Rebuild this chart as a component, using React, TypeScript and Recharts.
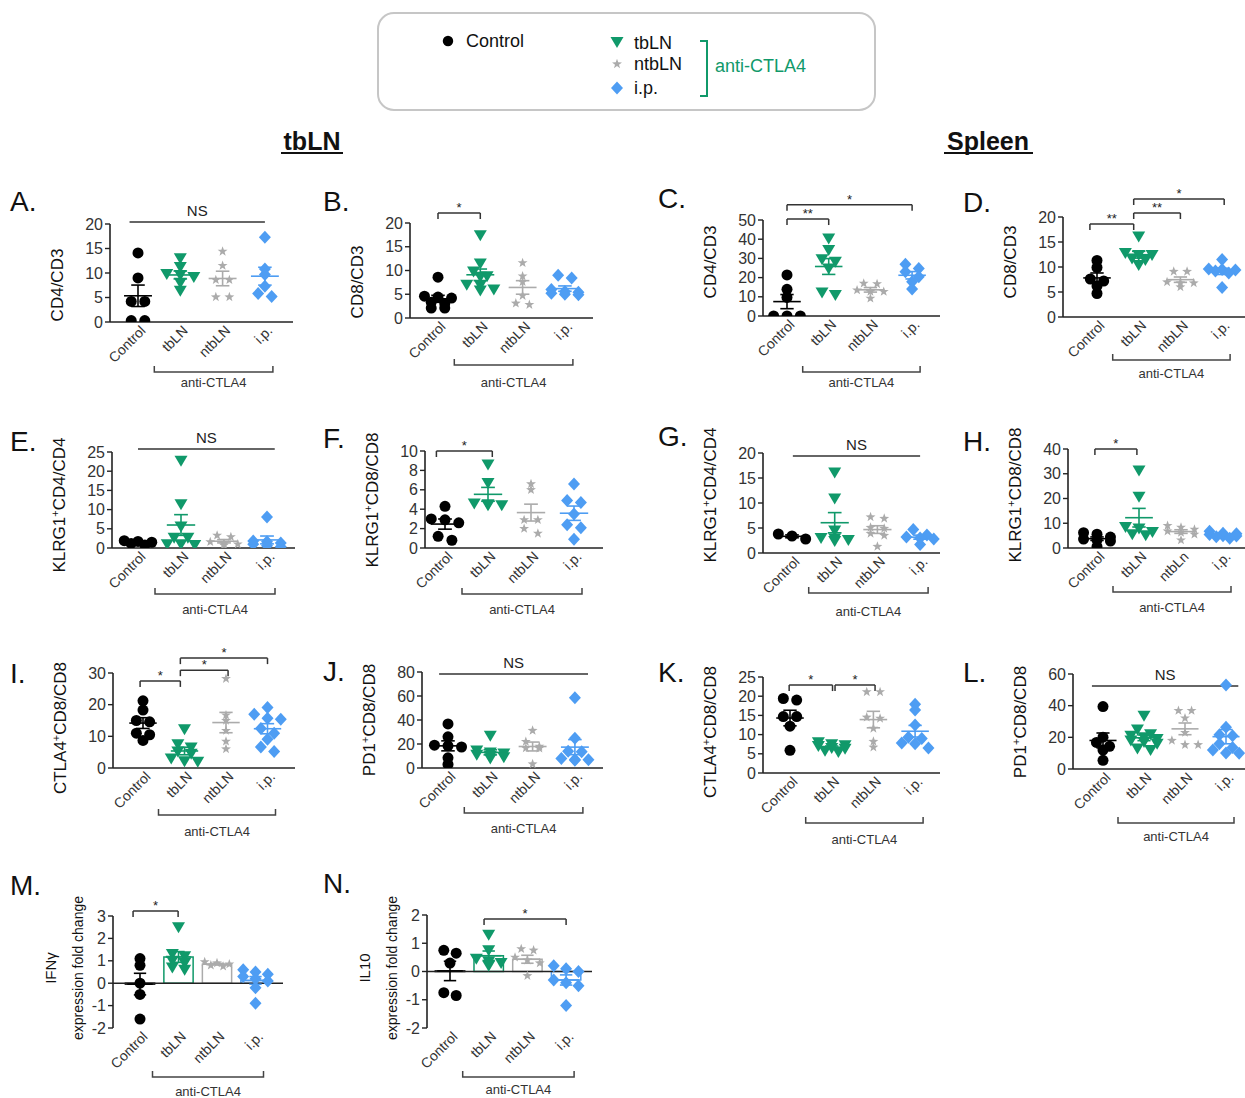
import React from 'react';
import { ScatterChart, Scatter, XAxis, YAxis, ReferenceLine, ReferenceArea, ReferenceDot } from 'recharts';

const FONT = '"Liberation Sans", Arial, Helvetica, sans-serif';
const COLORS = ['#000000', '#10996a', '#ababab', '#4e9df3'];
const GROUPS = ['Control', 'tbLN', 'ntbLN', 'i.p.'];
const GROUPS_H = ['Control', 'tbLN', 'ntbLn', 'i.p.'];

// values per panel: [Control, tbLN, ntbLN, i.p.]
const cd4TbLN = [
  [14.1, 9.0, 4.2, 4.2, 0.3, 0.3],
  [13.0, 11.2, 9.8, 9.6, 9.2, 8.0, 6.4],
  [14.4, 11.5, 8.6, 8.6, 5.1, 5.1],
  [17.3, 10.8, 9.7, 7.3, 5.8, 5.2],
];
const cd8TbLN = [
  [8.6, 4.6, 4.4, 4.2, 3.3, 3.0, 2.1, 2.1],
  [17.4, 11.5, 9.8, 8.8, 8.7, 7.0, 6.9, 6.0, 5.8],
  [11.6, 8.8, 7.6, 4.7, 3.1, 2.8],
  [9.0, 8.4, 6.0, 5.6, 5.4, 5.2, 5.0, 4.9],
];
const cd4Spleen = [
  [21.4, 13.9, 9.7, 0, 0, 0],
  [40.4, 34.4, 29.5, 28.3, 24.8, 12.2, 10.9],
  [17.0, 16.7, 13.5, 12.7, 12.7, 9.2],
  [27.0, 24.8, 23.0, 20.5, 17.9, 14.1],
];
const cd8Spleen = [
  [11.3, 9.9, 7.6, 7.2, 6.2, 4.7],
  [16.1, 12.8, 12.4, 12.4, 11.7, 11.4, 10.4],
  [9.1, 9.1, 7.0, 6.8, 6.8, 6.0],
  [11.5, 9.6, 9.5, 9.4, 9.2, 8.8, 5.9],
];
const klrgCd4TbLN = [
  [1.9, 1.7, 1.5, 1.2, 0.8],
  [22.7, 11.4, 5.6, 2.7, 2.7, 1.0, 0.8, 1.0],
  [3.3, 2.9, 1.6, 1.1, 1.0, 0.7],
  [8.1, 1.8, 1.6, 1.3, 1.0, 0.6, 0.3],
];
const klrgCd8TbLN = [
  [4.3, 3.0, 2.9, 2.6, 1.2, 0.8],
  [8.6, 6.7, 4.6, 4.5, 4.4, 4.4],
  [6.6, 6.0, 2.9, 2.9, 2.0, 1.5],
  [6.6, 4.9, 4.7, 3.5, 2.4, 2.1, 0.9],
];
const klrgCd4Spleen = [
  [3.8, 3.4, 2.8],
  [16.1, 10.9, 4.5, 3.0, 2.9, 2.6, 2.4],
  [7.2, 6.9, 5.1, 4.9, 3.9, 3.5, 1.3],
  [4.7, 3.6, 3.2, 3.0, 2.8, 1.7],
];
const klrgCd8Spleen = [
  [6.2, 5.6, 4.4, 3.6, 3.2, 2.8, 0.6],
  [31.3, 20.7, 8.5, 7.9, 6.5, 5.6, 5.2],
  [9.0, 8.3, 7.5, 6.8, 6.2, 5.5, 3.2],
  [6.8, 6.0, 5.8, 5.5, 5.0, 4.8, 4.5, 3.9],
];
const ctla4TbLN = [
  [21.2, 18.3, 15.0, 14.6, 11.0, 10.5, 8.7],
  [12.2, 7.5, 6.5, 5.2, 4.5, 3.0, 2.1, 2.0],
  [28.2, 16.7, 15.0, 11.8, 8.4, 6.0],
  [19.1, 17.0, 15.7, 15.4, 12.5, 11.0, 9.1, 6.6, 5.2],
];
const pd1TbLN = [
  [36.7, 26.0, 19.0, 18.5, 17.5, 8.5, 3.0],
  [26.8, 14.5, 13.0, 12.0, 11.0, 10.0, 9.0, 8.0],
  [31.2, 22.0, 18.0, 16.6, 16.4, 3.3],
  [58.5, 24.8, 14.0, 13.5, 8.0, 7.0, 6.9, 6.5],
];
const ctla4Spleen = [
  [19.4, 19.0, 14.7, 14.7, 12.2, 5.9],
  [8.0, 7.5, 7.2, 7.0, 6.5, 6.3, 5.8, 5.5],
  [21.1, 21.1, 14.5, 14.2, 11.6, 8.2, 6.7],
  [17.9, 16.4, 12.5, 9.3, 9.0, 7.8, 7.6, 6.5],
];
const pd1Spleen = [
  [39.4, 20.1, 16.8, 14.3, 12.0, 5.5],
  [33.6, 25.0, 22.0, 21.0, 20.0, 19.0, 18.0, 17.0, 16.0, 13.0, 12.0],
  [36.9, 36.9, 32.1, 23.0, 18.0, 15.3, 15.3],
  [53.1, 26.4, 21.6, 21.0, 16.0, 13.6, 12.0, 10.1, 10.0],
];
const ifng = [
  [1.1, 0.8, 0.0, -0.5, -1.6],
  [2.5, 1.3, 1.2, 1.0, 0.9, 0.7, 0.6],
  [0.95, 0.9, 0.85, 0.8, 0.75],
  [0.6, 0.5, 0.4, 0.3, 0.2, 0.1, -0.2, -0.9],
];
const il10 = [
  [0.75, 0.65, 0.3, -0.75, -0.85],
  [1.3, 0.75, 0.45, 0.35, 0.3, 0.2],
  [0.8, 0.75, 0.5, 0.4, 0.3, -0.15],
  [0.2, 0.1, 0.0, -0.3, -0.4, -0.5, -1.2],
];

// significance annotations: [from, to, level, label, legs]
type Sig = [number, number, number, string, boolean];
const sigA: Sig[] = [[-0.2, 3.0, 20.4, 'NS', false]];
const sigB: Sig[] = [[0, 1, 22.1, '*', true]];
const sigC: Sig[] = [[0, 1, 50.5, '**', true], [0, 3, 58, '*', true]];
const sigD: Sig[] = [[-0.17, 0.88, 18.6, '**', true], [0.88, 2, 20.8, '**', true], [0.88, 3.05, 23.6, '*', true]];
const sigE: Sig[] = [[0, 3.18, 25.8, 'NS', false]];
const sigF: Sig[] = [[-0.2, 1.1, 10, '*', true]];
const sigG: Sig[] = [[0.02, 3.0, 19.4, 'NS', false]];
const sigH: Sig[] = [[-0.05, 0.95, 40, '*', true]];
const sigI: Sig[] = [[-0.07, 0.9, 27.5, '*', true], [0.9, 2.05, 30.9, '*', true], [0.9, 3.0, 34.7, '*', true]];
const sigJ: Sig[] = [[-0.21, 3.31, 78.3, 'NS', false]];
const sigK: Sig[] = [[-0.02, 1.02, 22.9, '*', true], [1.08, 2.04, 22.9, '*', true]];
const sigL: Sig[] = [[-0.27, 3.3, 52.5, 'NS', false]];
const sigM: Sig[] = [[-0.18, 0.99, 3.22, '*', true]];
const sigN: Sig[] = [[0.88, 3.0, 1.86, '*', true]];

type LabelPart = { t: string; sup?: boolean };
type PanelCfg = {
  letter: string;
  values: number[][];
  sig: Sig[];
  yDomain: [number, number];
  yTicks: number[];
  yLabel: LabelPart[][];
  names: string[];
  bars?: boolean;
  // layout (page pixels)
  left: number; top: number; right: number; bottom: number; cat0: number; step: number;
  labelY: number; bracketY: number; textY: number; letterX: number; letterY: number;
};

const L = (s: string): LabelPart[][] => [[{ t: s }]];
const LS = (a: string, b: string): LabelPart[][] => [[{ t: a }, { t: '+', sup: true }, { t: b }]];

const panels: PanelCfg[] = [
  { letter: 'A.', values: cd4TbLN, sig: sigA, yDomain: [0, 20], yTicks: [0, 5, 10, 15, 20], yLabel: L('CD4/CD3'), names: GROUPS,
    left: 110, top: 224, right: 293, bottom: 322, cat0: 138, step: 42.3, labelY: 285, bracketY: 372, textY: 382, letterX: 10, letterY: 211 },
  { letter: 'B.', values: cd8TbLN, sig: sigB, yDomain: [0, 20], yTicks: [0, 5, 10, 15, 20], yLabel: L('CD8/CD3'), names: GROUPS,
    left: 410, top: 223, right: 593, bottom: 318, cat0: 438, step: 42.3, labelY: 282, bracketY: 365, textY: 382, letterX: 323, letterY: 211 },
  { letter: 'C.', values: cd4Spleen, sig: sigC, yDomain: [0, 50], yTicks: [0, 10, 20, 30, 40, 50], yLabel: L('CD4/CD3'), names: GROUPS,
    left: 763, top: 220, right: 940, bottom: 316, cat0: 787, step: 41.7, labelY: 262, bracketY: 372, textY: 382, letterX: 658, letterY: 208 },
  { letter: 'D.', values: cd8Spleen, sig: sigD, yDomain: [0, 20], yTicks: [0, 5, 10, 15, 20], yLabel: L('CD8/CD3'), names: GROUPS,
    left: 1063, top: 217, right: 1245, bottom: 317, cat0: 1097, step: 41.7, labelY: 262, bracketY: 360, textY: 373, letterX: 963, letterY: 212 },
  { letter: 'E.', values: klrgCd4TbLN, sig: sigE, yDomain: [0, 25], yTicks: [0, 5, 10, 15, 20, 25], yLabel: LS('KLRG1', 'CD4/CD4'), names: GROUPS,
    left: 112, top: 452, right: 295, bottom: 548, cat0: 138, step: 43, labelY: 505, bracketY: 594, textY: 609, letterX: 10, letterY: 451 },
  { letter: 'F.', values: klrgCd8TbLN, sig: sigF, yDomain: [0, 10], yTicks: [0, 2, 4, 6, 8, 10], yLabel: LS('KLRG1', 'CD8/CD8'), names: GROUPS,
    left: 425, top: 451, right: 603, bottom: 548, cat0: 445, step: 43, labelY: 500, bracketY: 594, textY: 609, letterX: 323, letterY: 448 },
  { letter: 'G.', values: klrgCd4Spleen, sig: sigG, yDomain: [0, 20], yTicks: [0, 5, 10, 15, 20], yLabel: LS('KLRG1', 'CD4/CD4'), names: GROUPS,
    left: 763, top: 453, right: 940, bottom: 553, cat0: 792, step: 42.7, labelY: 495, bracketY: 593, textY: 611, letterX: 658, letterY: 446 },
  { letter: 'H.', values: klrgCd8Spleen, sig: sigH, yDomain: [0, 40], yTicks: [0, 10, 20, 30, 40], yLabel: LS('KLRG1', 'CD8/CD8'), names: GROUPS_H,
    left: 1068, top: 449, right: 1245, bottom: 548, cat0: 1097, step: 42, labelY: 495, bracketY: 592, textY: 607, letterX: 963, letterY: 451 },
  { letter: 'I.', values: ctla4TbLN, sig: sigI, yDomain: [0, 30], yTicks: [0, 10, 20, 30], yLabel: LS('CTLA4', 'CD8/CD8'), names: GROUPS,
    left: 113, top: 673, right: 295, bottom: 768, cat0: 143, step: 41.5, labelY: 728, bracketY: 815, textY: 831, letterX: 10, letterY: 683 },
  { letter: 'J.', values: pd1TbLN, sig: sigJ, yDomain: [0, 80], yTicks: [0, 20, 40, 60, 80], yLabel: LS('PD1', 'CD8/CD8'), names: GROUPS,
    left: 422, top: 672, right: 603, bottom: 768, cat0: 448, step: 42.3, labelY: 720, bracketY: 813, textY: 828, letterX: 323, letterY: 681 },
  { letter: 'K.', values: ctla4Spleen, sig: sigK, yDomain: [0, 25], yTicks: [0, 5, 10, 15, 20, 25], yLabel: LS('CTLA4', 'CD8/CD8'), names: GROUPS,
    left: 763, top: 677, right: 940, bottom: 773, cat0: 790, step: 41.7, labelY: 732, bracketY: 823, textY: 839, letterX: 658, letterY: 682 },
  { letter: 'L.', values: pd1Spleen, sig: sigL, yDomain: [0, 60], yTicks: [0, 20, 40, 60], yLabel: LS('PD1', 'CD8/CD8'), names: GROUPS,
    left: 1073, top: 674, right: 1245, bottom: 769, cat0: 1103, step: 41, labelY: 722, bracketY: 823, textY: 836, letterX: 963, letterY: 682 },
  { letter: 'M.', values: ifng, sig: sigM, yDomain: [-2, 3], yTicks: [-2, -1, 0, 1, 2, 3], bars: true,
    yLabel: [[{ t: 'IFNγ' }], [{ t: 'expression fold change' }]], names: GROUPS,
    left: 113, top: 916, right: 283, bottom: 1028, cat0: 140, step: 38.5, labelY: 968, bracketY: 1077, textY: 1091, letterX: 10, letterY: 895 },
  { letter: 'N.', values: il10, sig: sigN, yDomain: [-2, 2], yTicks: [-2, -1, 0, 1, 2], bars: true,
    yLabel: [[{ t: 'IL10' }], [{ t: 'expression fold change' }]], names: GROUPS,
    left: 427, top: 915, right: 592, bottom: 1028, cat0: 450, step: 38.7, labelY: 968, bracketY: 1077, textY: 1089, letterX: 323, letterY: 893 },
];

function meanSem(v: number[]) {
  const n = v.length;
  const m = v.reduce((a, b) => a + b, 0) / n;
  const sd = Math.sqrt(v.reduce((a, b) => a + (b - m) ** 2, 0) / (n - 1));
  return { mean: m, sem: sd / Math.sqrt(n) };
}

// beeswarm-like horizontal spread so near-equal values sit side by side
function spread(values: number[], yRange: number) {
  const order = values.map((_, i) => i).sort((a, b) => values[b] - values[a]);
  const offsets = new Array(values.length).fill(0);
  const thr = yRange * 0.055;
  let row: number[] = [];
  const flush = () => {
    row.forEach((id, k) => { offsets[id] = (k - (row.length - 1) / 2) * 0.32; });
    row = [];
  };
  order.forEach((id) => {
    if (row.length && (values[row[0]] - values[id] > thr || row.length >= 3)) flush();
    row.push(id);
  });
  flush();
  return offsets;
}

function starPoints(cx: number, cy: number, ro: number, ri: number) {
  const pts: string[] = [];
  for (let i = 0; i < 10; i++) {
    const r = i % 2 === 0 ? ro : ri;
    const a = -Math.PI / 2 + (i * Math.PI) / 5;
    pts.push(`${cx + r * Math.cos(a)},${cy + r * Math.sin(a)}`);
  }
  return pts.join(' ');
}

function Marker({ cx, cy, g, s = 1 }: { cx: number; cy: number; g: number; s?: number }) {
  const c = COLORS[g];
  if (g === 0) return <circle cx={cx} cy={cy} r={5.5 * s} fill={c} />;
  if (g === 1) return <polygon points={`${cx - 6.5 * s},${cy - 5 * s} ${cx + 6.5 * s},${cy - 5 * s} ${cx},${cy + 6 * s}`} fill={c} />;
  if (g === 2) return <polygon points={starPoints(cx, cy, 5.2 * s, 2.1 * s)} fill={c} />;
  return <polygon points={`${cx},${cy - 6.5 * s} ${cx + 6 * s},${cy} ${cx},${cy + 6.5 * s} ${cx - 6 * s},${cy}`} fill={c} />;
}

function CatTick(props: any) {
  const { x, y, payload, names } = props;
  return (
    <text transform={`translate(${x + 5},${y + 4}) rotate(-45)`} textAnchor="end" dy="0.35em"
      fontSize={14} fill="#333" fontFamily={FONT}>
      {names[payload.value]}
    </text>
  );
}

const Y_AXIS_W = 70;
const M_TOP = 60;
const X_AXIS_H = 110;
const M_RIGHT = 4;

function Panel({ cfg }: { cfg: PanelCfg }) {
  const { values, sig, yDomain, yTicks, names, bars } = cfg;
  const plotW = cfg.right - cfg.left;
  const plotH = cfg.bottom - cfg.top;
  const width = plotW + Y_AXIS_W + M_RIGHT;
  const height = plotH + M_TOP + X_AXIS_H;
  const ox = cfg.left - Y_AXIS_W;
  const oy = cfg.top - M_TOP;
  const xMin = -(cfg.cat0 - cfg.left) / cfg.step;
  const xMax = (cfg.right - cfg.cat0) / cfg.step;
  const yRange = yDomain[1] - yDomain[0];
  const leg = (6 * yRange) / plotH;
  const series = values.map((vals, g) => {
    const off = spread(vals, yRange);
    return vals.map((v, i) => ({ x: g + off[i], y: v }));
  });
  const stats = values.map(meanSem);
  const catX = (c: number) => cfg.cat0 + c * cfg.step - ox;
  const bx1 = catX(1) - 26;
  const bx2 = catX(3) + 8;
  const by = cfg.bracketY - oy;

  return (
    <div style={{ position: 'absolute', left: ox, top: oy, width, height }}>
      <ScatterChart width={width} height={height} margin={{ top: M_TOP, right: M_RIGHT, bottom: 0, left: 0 }}>
        <XAxis type="number" dataKey="x" domain={[xMin, xMax]} ticks={[0, 1, 2, 3]} interval={0} allowDataOverflow
          height={X_AXIS_H} axisLine={bars ? false : { stroke: '#222', strokeWidth: 1.6 }} tickLine={false} tickSize={0}
          tick={(p: any) => <CatTick {...p} names={names} />} />
        <YAxis type="number" dataKey="y" domain={yDomain} ticks={yTicks} interval={0} allowDataOverflow width={Y_AXIS_W}
          axisLine={{ stroke: '#222', strokeWidth: 1.6 }} tickLine={{ stroke: '#222', strokeWidth: 1.4 }} tickSize={5} tickMargin={2}
          tick={{ fontSize: 16, fill: '#333', fontFamily: FONT }} />
        {bars && <ReferenceLine y={0} stroke="#222" strokeWidth={1.6} ifOverflow="visible" />}
        {bars && stats.map((s, g) => (
          <ReferenceArea key={`bar${g}`} x1={g - 0.38} x2={g + 0.38} y1={0} y2={s.mean} fill="none"
            stroke={COLORS[g]} strokeWidth={1.5} fillOpacity={0} ifOverflow="visible" />
        ))}
        {series.map((d, g) => (
          <Scatter key={`s${g}`} data={d} isAnimationActive={false}
            shape={(p: any) => <Marker cx={p.cx} cy={p.cy} g={g} />} />
        ))}
        {stats.map((s, g) => (
          <React.Fragment key={`m${g}`}>
            <ReferenceLine segment={[{ x: g - 0.33, y: s.mean }, { x: g + 0.33, y: s.mean }]} stroke={COLORS[g]} strokeWidth={1.6} ifOverflow="visible" />
            <ReferenceLine segment={[{ x: g, y: s.mean - s.sem }, { x: g, y: s.mean + s.sem }]} stroke={COLORS[g]} strokeWidth={1.6} ifOverflow="visible" />
            <ReferenceLine segment={[{ x: g - 0.16, y: s.mean + s.sem }, { x: g + 0.16, y: s.mean + s.sem }]} stroke={COLORS[g]} strokeWidth={1.6} ifOverflow="visible" />
            <ReferenceLine segment={[{ x: g - 0.16, y: s.mean - s.sem }, { x: g + 0.16, y: s.mean - s.sem }]} stroke={COLORS[g]} strokeWidth={1.6} ifOverflow="visible" />
          </React.Fragment>
        ))}
        {sig.map(([from, to, level, label, legs], k) => (
          <React.Fragment key={`sig${k}`}>
            <ReferenceLine segment={[{ x: from, y: level }, { x: to, y: level }]} stroke="#333" strokeWidth={1.5} ifOverflow="visible" />
            {legs && <ReferenceLine segment={[{ x: from, y: level }, { x: from, y: level - leg }]} stroke="#333" strokeWidth={1.5} ifOverflow="visible" />}
            {legs && <ReferenceLine segment={[{ x: to, y: level }, { x: to, y: level - leg }]} stroke="#333" strokeWidth={1.5} ifOverflow="visible" />}
            <ReferenceDot x={(from + to) / 2} y={level} r={0} ifOverflow="visible"
              shape={(p: any) => (
                <text x={p.cx} y={p.cy - (label === 'NS' ? 6 : 1)} textAnchor="middle" fontFamily={FONT}
                  fontSize={label === 'NS' ? 15 : 13} fill="#222">{label}</text>
              )} />
          </React.Fragment>
        ))}
      </ScatterChart>
      <svg width={width} height={height} style={{ position: 'absolute', left: 0, top: 0, pointerEvents: 'none', overflow: 'visible' }}>
        <path d={`M${bx1},${by - 6} V${by} H${bx2} V${by - 6}`} fill="none" stroke="#444" strokeWidth={1.5} />
        <text x={(bx1 + bx2) / 2} y={cfg.textY - oy} dy="0.35em" textAnchor="middle" fontSize={13} fill="#333" fontFamily={FONT}>anti-CTLA4</text>
        {cfg.yLabel.map((line, li) => {
          const n = cfg.yLabel.length;
          const lx = n === 1 ? Y_AXIS_W - 47 : Y_AXIS_W - 57 + li * 27;
          const ly = cfg.labelY - oy;
          return (
            <text key={li} transform={`translate(${lx},${ly}) rotate(-90)`} textAnchor="middle" dy="0.35em"
              fontSize={n === 1 ? 17 : li === 0 ? 15 : 14} fill="#111" fontFamily={FONT}>
              {line.map((p, pi) => p.sup
                ? <tspan key={pi} dy={-6} fontSize={11}>{p.t}</tspan>
                : <tspan key={pi} dy={pi > 0 && line[pi - 1].sup ? 6 : 0}>{p.t}</tspan>)}
            </text>
          );
        })}
      </svg>
    </div>
  );
}

function Decorations() {
  return (
    <svg width={1245} height={1098} style={{ position: 'absolute', left: 0, top: 0 }}>
      <rect x={378} y={13} width={497} height={97} rx={16} fill="none" stroke="#c6c6c6" strokeWidth={2} />
      <Marker cx={448} cy={41} g={0} s={0.95} />
      <text x={466} y={41} dy="0.35em" fontSize={18} fontFamily={FONT} fill="#111">Control</text>
      <Marker cx={617} cy={42} g={1} />
      <text x={634} y={43} dy="0.35em" fontSize={18} fontFamily={FONT} fill="#111">tbLN</text>
      <Marker cx={617} cy={64} g={2} />
      <text x={634} y={64} dy="0.35em" fontSize={18} fontFamily={FONT} fill="#111">ntbLN</text>
      <Marker cx={617} cy={88} g={3} />
      <text x={634} y={88} dy="0.35em" fontSize={18} fontFamily={FONT} fill="#111">i.p.</text>
      <path d="M700,41 H707 V96 H700" fill="none" stroke={COLORS[1]} strokeWidth={2} />
      <text x={715} y={66} dy="0.35em" fontSize={18} fontFamily={FONT} fill={COLORS[1]}>anti-CTLA4</text>

      <text x={312} y={150} textAnchor="middle" fontSize={25} fontWeight="bold" fontFamily={FONT} fill="#111">tbLN</text>
      <line x1={281} x2={343} y1={153} y2={153} stroke="#111" strokeWidth={2} />
      <text x={988} y={150} textAnchor="middle" fontSize={25} fontWeight="bold" fontFamily={FONT} fill="#111">Spleen</text>
      <line x1={944} x2={1033} y1={153} y2={153} stroke="#111" strokeWidth={2} />

      {panels.map((p) => (
        <text key={p.letter} x={p.letterX} y={p.letterY} fontSize={28} fontFamily={FONT} fill="#111">{p.letter}</text>
      ))}
    </svg>
  );
}

export default function App() {
  return (
    <div style={{ position: 'absolute', left: 0, top: 0, width: 1245, height: 1098, background: '#fff', fontFamily: FONT }}>
      <Decorations />
      {panels.map((p) => <Panel key={p.letter} cfg={p} />)}
    </div>
  );
}
